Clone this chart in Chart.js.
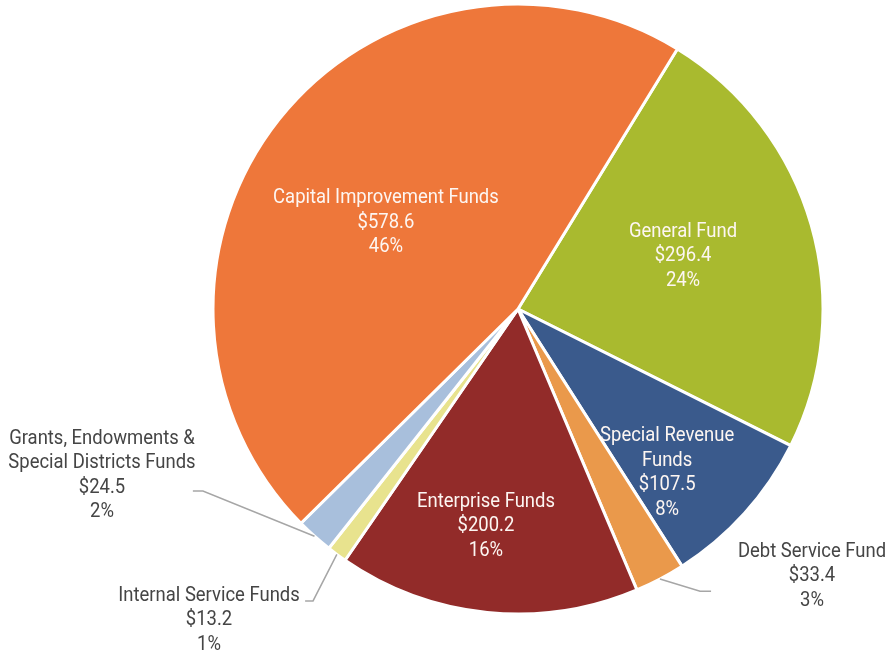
<!DOCTYPE html>
<html>
<head>
<meta charset="utf-8">
<script src="https://cdn.jsdelivr.net/npm/chart.js@4.4.0/dist/chart.umd.min.js"></script>
<style>
  html, body { margin: 0; padding: 0; background: #fff; }
  #wrap { width: 888px; height: 654px; position: relative; }
</style>
</head>
<body>
<div id="wrap"><canvas id="chart"></canvas></div>
<script>
// data, clockwise from the General Fund slice
var funds = ['General Fund', 'Special Revenue Funds', 'Debt Service Fund', 'Enterprise Funds',
  'Internal Service Funds', 'Grants, Endowments & Special Districts Funds', 'Capital Improvement Funds'];
var amounts = [296.4, 107.5, 33.4, 200.2, 13.2, 24.5, 578.6];
var percents = [24, 8, 3, 16, 1, 2, 46];
var nameLines = [
  ['General Fund'],
  ['Special Revenue', 'Funds'],
  ['Debt Service Fund'],
  ['Enterprise Funds'],
  ['Internal Service Funds'],
  ['Grants, Endowments &', 'Special Districts Funds'],
  ['Capital Improvement Funds']
];
var colors = ['#a9ba2f', '#3a5a8c', '#ea994b', '#922b29', '#e8e38e', '#a8bfdc', '#ee773a'];

// label placement in units of the pie radius, relative to the pie centre
var labelPos = [
  { x: 0.541, y: -0.180, inside: true },
  { x: 0.489, y: 0.531, inside: true },
  { x: 0.964, y: 0.869, elbow: [0.597, 0.925], end: [0.633, 0.925] },
  { x: -0.105, y: 0.705, inside: true },
  { x: -1.013, y: 1.013, elbow: [-0.672, 0.957], end: [-0.698, 0.957] },
  { x: -1.364, y: 0.539, elbow: [-1.033, 0.597], end: [-1.066, 0.597] },
  { x: -0.433, y: -0.289, inside: true }
];

var labelPlugin = {
  id: 'sliceLabels',
  afterDatasetsDraw: function (chart) {
    var ctx = chart.ctx;
    var arcs = chart.getDatasetMeta(0).data;
    ctx.save();
    ctx.font = '20.5px Roboto';
    ctx.textAlign = 'center';
    ctx.textBaseline = 'middle';
    arcs.forEach(function (arc, i) {
      var cx = arc.x, cy = arc.y, r = arc.outerRadius;
      var p = labelPos[i];
      if (!p.inside) {
        var mid = (arc.startAngle + arc.endAngle) / 2;
        ctx.strokeStyle = '#a6a6a6';
        ctx.lineWidth = 1.5;
        ctx.beginPath();
        ctx.moveTo(cx + Math.cos(mid) * r, cy + Math.sin(mid) * r);
        ctx.lineTo(cx + p.elbow[0] * r, cy + p.elbow[1] * r);
        ctx.lineTo(cx + p.end[0] * r, cy + p.end[1] * r);
        ctx.stroke();
      }
      var lines = nameLines[i].concat(['$' + amounts[i].toFixed(1), percents[i] + '%']);
      var lh = 24.5;
      var x = cx + p.x * r;
      var y0 = cy + p.y * r - (lines.length - 1) * lh / 2 + 2;
      ctx.fillStyle = p.inside ? '#fdf6f2' : '#454545';
      lines.forEach(function (line, k) {
        ctx.save();
        ctx.translate(x, y0 + k * lh);
        ctx.scale(0.9, 1);
        ctx.fillText(line, 0, 0);
        ctx.restore();
      });
    });
    ctx.restore();
  }
};

new Chart(document.getElementById('chart'), {
  type: 'pie',
  data: {
    labels: funds,
    datasets: [{
      data: amounts,
      backgroundColor: colors,
      borderColor: '#ffffff',
      borderWidth: 3
    }]
  },
  options: {
    responsive: true,
    maintainAspectRatio: false,
    animation: false,
    events: [],
    rotation: 31.5,
    radius: 305,
    layout: { padding: { left: 148, right: 0, top: 0, bottom: 36 } },
    plugins: { legend: { display: false }, tooltip: { enabled: false } }
  },
  plugins: [labelPlugin]
});
</script>
</body>
</html>
